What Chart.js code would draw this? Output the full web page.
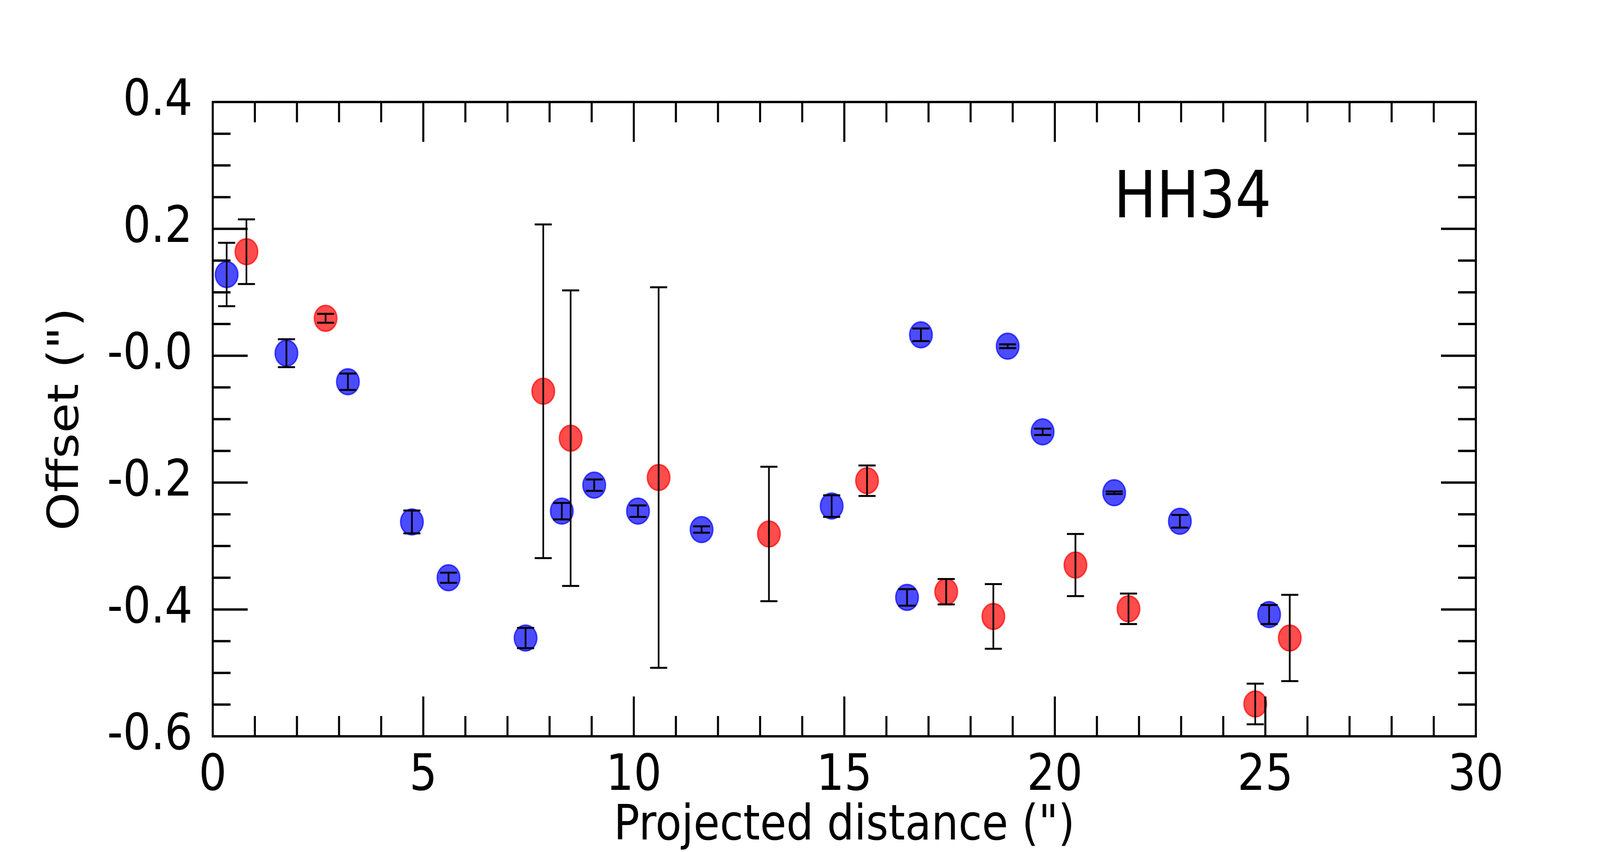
<!DOCTYPE html>
<html>
<head>
<meta charset="utf-8">
<script src="https://cdn.jsdelivr.net/npm/chart.js@4.4.1/dist/chart.umd.min.js"></script>
<style>
  html, body { margin: 0; padding: 0; background: #fff; overflow: hidden; }
  canvas { display: block; }
</style>
</head>
<body>
<!-- drawn at the reference size, shown at the size of the window -->
<canvas id="offsetChart" width="4678" height="2180" style="width:100vw;height:100vh"></canvas>
<script>
// blue-shifted knots
const blueX   = [0.33, 1.75, 3.21, 4.73, 5.60, 7.43, 8.29, 9.06, 10.10, 11.61, 14.70, 16.49, 16.82, 18.88, 19.71, 21.41, 22.97, 25.09];
const blueY   = [0.128, 0.004, -0.041, -0.262, -0.350, -0.445, -0.245, -0.204, -0.245, -0.274, -0.237, -0.381, 0.033, 0.015, -0.120, -0.216, -0.261, -0.408];
const blueErr = [0.050, 0.022, 0.013, 0.018, 0.008, 0.016, 0.013, 0.009, 0.009, 0.005, 0.017, 0.013, 0.010, 0.003, 0.005, 0.002, 0.010, 0.015];

// red-shifted knots
const redX   = [0.80, 2.68, 7.85, 8.50, 10.59, 13.21, 15.54, 17.42, 18.54, 20.49, 21.75, 24.76, 25.58];
const redY   = [0.164, 0.059, -0.056, -0.130, -0.192, -0.281, -0.197, -0.372, -0.411, -0.330, -0.399, -0.549, -0.445];
const redErr = [0.051, 0.007, 0.263, 0.233, 0.300, 0.106, 0.024, 0.020, 0.051, 0.049, 0.024, 0.032, 0.068];

const xMajor = 5;      // labelled x ticks
const yMajor = 0.2;    // labelled y ticks
const xTitle = 'Projected distance (")';
const yTitle = 'Offset (")';
const tag = { text: 'HH34', x: 21.4, y: 0.218 };

const FONT = 'DejaVu Sans';

function toPoints(xs, ys, errs) {
    return xs.map((x, i) => ({ x: x, y: ys[i], err: errs[i] }));
}

function isMajor(v, step) {
    const r = v / step;
    return Math.abs(r - Math.round(r)) < 1e-6;
}

// error bars drawn on top of the markers
const errorBars = {
    id: 'errorBars',
    afterDatasetsDraw(chart) {
        const ctx = chart.ctx;
        const xs = chart.scales.x, ys = chart.scales.y;
        ctx.save();
        ctx.strokeStyle = '#000';
        ctx.lineWidth = 5;
        chart.data.datasets.forEach(ds => {
            ds.data.forEach(p => {
                const px = xs.getPixelForValue(p.x);
                const top = ys.getPixelForValue(p.y + p.err);
                const bot = ys.getPixelForValue(p.y - p.err);
                ctx.beginPath();
                ctx.moveTo(px, top); ctx.lineTo(px, bot);
                ctx.moveTo(px - 25, top); ctx.lineTo(px + 25, top);
                ctx.moveTo(px - 25, bot); ctx.lineTo(px + 25, bot);
                ctx.stroke();
            });
        });
        ctx.restore();
    }
};

// frame, inward ticks on all sides, axis titles and the HH34 tag
const frame = {
    id: 'frame',
    afterDraw(chart) {
        const ctx = chart.ctx;
        const a = chart.chartArea;
        const xs = chart.scales.x, ys = chart.scales.y;
        ctx.save();
        ctx.strokeStyle = '#000';
        ctx.lineWidth = 6;
        ctx.beginPath();
        xs.ticks.forEach(t => {
            const px = xs.getPixelForValue(t.value);
            const len = isMajor(t.value, xMajor) ? 102 : 52;
            ctx.moveTo(px, a.bottom); ctx.lineTo(px, a.bottom - len);
            ctx.moveTo(px, a.top); ctx.lineTo(px, a.top + len);
        });
        ys.ticks.forEach(t => {
            const py = ys.getPixelForValue(t.value);
            const len = isMajor(t.value, yMajor) ? 102 : 52;
            ctx.moveTo(a.left, py); ctx.lineTo(a.left + len, py);
            ctx.moveTo(a.right, py); ctx.lineTo(a.right - len, py);
        });
        ctx.stroke();
        ctx.strokeRect(a.left, a.top, a.right - a.left, a.bottom - a.top);

        ctx.fillStyle = '#000';
        ctx.textBaseline = 'alphabetic';

        ctx.font = '125px "' + FONT + '"';
        ctx.textAlign = 'center';
        ctx.fillText(xTitle, (a.left + a.right) / 2, 2148);

        ctx.save();
        ctx.translate(228, (a.top + a.bottom) / 2);
        ctx.rotate(-Math.PI / 2);
        ctx.fillText(yTitle, 0, 0);
        ctx.restore();

        ctx.font = '166px "' + FONT + '"';
        ctx.textAlign = 'left';
        ctx.fillText(tag.text, xs.getPixelForValue(tag.x), ys.getPixelForValue(tag.y));
        ctx.restore();
    }
};

const canvas = document.getElementById('offsetChart');
const ctx = canvas.getContext('2d');

new Chart(ctx, {
    type: 'scatter',
    data: {
        datasets: [
            {
                label: 'blue',
                data: toPoints(blueX, blueY, blueErr),
                backgroundColor: 'rgba(0, 0, 255, 0.7)',
                borderColor: 'rgba(0, 0, 255, 0.7)',
                borderWidth: 4,
                pointRadius: 33,
                pointHoverRadius: 33
            },
            {
                label: 'red',
                data: toPoints(redX, redY, redErr),
                backgroundColor: 'rgba(255, 0, 0, 0.7)',
                borderColor: 'rgba(255, 0, 0, 0.7)',
                borderWidth: 4,
                pointRadius: 33,
                pointHoverRadius: 33
            }
        ]
    },
    options: {
        responsive: false,
        animation: false,
        devicePixelRatio: 1,
        events: [],
        layout: { padding: { top: 261, right: 363, left: 0, bottom: 0 } },
        plugins: {
            legend: { display: false },
            tooltip: { enabled: false }
        },
        scales: {
            x: {
                type: 'linear',
                min: 0,
                max: 30,
                grid: { display: false, drawTicks: false },
                border: { display: false },
                ticks: {
                    stepSize: 1,
                    autoSkip: false,
                    maxRotation: 0,
                    padding: 27,
                    color: '#000',
                    font: { family: FONT, size: 128 },
                    callback: v => isMajor(v, xMajor) ? String(Math.round(v)) : ''
                },
                afterFit: s => { s.height = 296; }
            },
            y: {
                type: 'linear',
                min: -0.6,
                max: 0.4,
                grid: { display: false, drawTicks: false },
                border: { display: false },
                ticks: {
                    stepSize: 0.05,
                    autoSkip: false,
                    padding: 59,
                    color: '#000',
                    font: { family: FONT, size: 128 },
                    callback: v => {
                        if (!isMajor(v, yMajor)) return '';
                        if (Math.abs(v) < 1e-9) return '-0.0';
                        return v.toFixed(1);
                    }
                },
                afterFit: s => { s.width = 622; }
            }
        }
    },
    plugins: [errorBars, frame]
});

canvas.style.width = '100vw';
canvas.style.height = '100vh';
</script>
</body>
</html>
